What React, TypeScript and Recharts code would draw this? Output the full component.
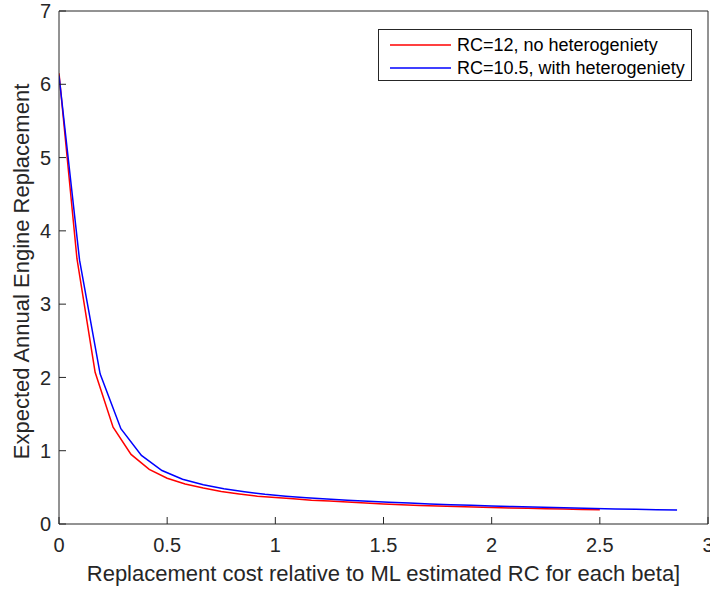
import { Legend, Line, LineChart, XAxis, YAxis } from "recharts"

// RC = 12, no heterogeneity (red)
const noHetX = [
  0, 0.083, 0.167, 0.25, 0.333, 0.417, 0.5, 0.583, 0.667, 0.75, 0.833, 0.917, 1, 1.083, 1.167, 1.25,
  1.333, 1.417, 1.5, 1.583, 1.667, 1.75, 1.833, 1.917, 2, 2.083, 2.167, 2.25, 2.333, 2.417, 2.5,
]
const noHetY = [
  6.15, 3.62, 2.07, 1.32, 0.95, 0.745, 0.625, 0.545, 0.49, 0.445, 0.41, 0.38, 0.36, 0.345, 0.325, 0.315,
  0.3, 0.285, 0.272, 0.263, 0.254, 0.246, 0.239, 0.232, 0.226, 0.22, 0.214, 0.209, 0.204, 0.199, 0.195,
]

// RC = 10.5, with heterogeneity (blue)
const hetX = [
  0, 0.095, 0.19, 0.286, 0.381, 0.476, 0.571, 0.667, 0.762, 0.857, 0.952, 1.048, 1.143, 1.238, 1.333, 1.429,
  1.524, 1.619, 1.714, 1.81, 1.905, 2, 2.095, 2.19, 2.286, 2.381, 2.476, 2.571, 2.667, 2.762, 2.857,
]
const hetY = [
  6.12, 3.6, 2.05, 1.3, 0.935, 0.73, 0.61, 0.535, 0.48, 0.44, 0.405, 0.38, 0.358, 0.34, 0.325, 0.31,
  0.297, 0.285, 0.274, 0.264, 0.255, 0.246, 0.238, 0.231, 0.224, 0.218, 0.212, 0.206, 0.201, 0.196, 0.191,
]

const xTicks = [0, 0.5, 1, 1.5, 2, 2.5, 3]
const yTicks = [0, 1, 2, 3, 4, 5, 6, 7]
const seriesNames = ["RC=12, no heterogeniety", "RC=10.5, with heterogeniety"]
const seriesColors = ["#ff0000", "#0000ff"]
const xTitle = "Replacement cost relative to ML estimated RC for each beta]"
const yTitle = "Expected Annual Engine Replacement"

const noHet = noHetX.map((x, i) => ({ x, y: noHetY[i] }))
const het = hetX.map((x, i) => ({ x, y: hetY[i] }))

const FONT = '"Liberation Sans", Arial, Helvetica, sans-serif'
const INK = "#262626"

// matlab-style legend box, kept in series order (recharts sorts by name otherwise)
function LegendBox() {
  return (
    <div
      style={{
        position: "relative",
        width: 314,
        height: 52,
        boxSizing: "border-box",
        border: `1px solid ${INK}`,
        background: "#fff",
        fontFamily: FONT,
        fontSize: 18,
        color: "#000",
      }}
    >
      {seriesNames.map((name, i) => (
        <div
          key={name}
          style={{
            position: "absolute",
            left: 11,
            top: 4 + i * 22.5,
            height: 22,
            display: "flex",
            alignItems: "center",
            whiteSpace: "nowrap",
          }}
        >
          <svg width={61} height={4} style={{ display: "block" }}>
            <line x1={0} x2={61} y1={2} y2={2} stroke={seriesColors[i]} strokeWidth={1.5} />
          </svg>
          <span style={{ marginLeft: 6, lineHeight: "22px" }}>{name}</span>
        </div>
      ))}
    </div>
  )
}

function YTitle({ viewBox }: any) {
  const cx = viewBox.x + 29
  const cy = viewBox.y + viewBox.height / 2 + 4
  return (
    <text
      x={cx}
      y={cy}
      transform={`rotate(-90 ${cx} ${cy})`}
      textAnchor="middle"
      fill={INK}
      fontSize={22}
      fontFamily={FONT}
    >
      {yTitle}
    </text>
  )
}

export default function App() {
  const tickStyle = { fill: INK, fontSize: 20, fontFamily: FONT }
  return (
    <div style={{ position: "absolute", left: 0, top: 0, background: "#fff" }}>
      <LineChart width={710} height={589} margin={{ top: 10, right: 1, bottom: 0, left: 0 }}>
        <XAxis
          type="number"
          dataKey="x"
          domain={[0, 3]}
          ticks={xTicks}
          interval={0}
          allowDataOverflow
          height={65}
          tickSize={-7}
          tickMargin={21}
          stroke={INK}
          tick={tickStyle}
          label={{ value: xTitle, position: "insideBottom", offset: 8, fill: INK, fontSize: 22, fontFamily: FONT }}
        />
        <XAxis
          xAxisId="top"
          orientation="top"
          type="number"
          dataKey="x"
          domain={[0, 3]}
          ticks={xTicks}
          interval={0}
          allowDataOverflow
          height={1}
          tickSize={-7}
          tick={false}
          stroke={INK}
        />
        <YAxis
          type="number"
          domain={[0, 7]}
          ticks={yTicks}
          interval={0}
          allowDataOverflow
          width={59}
          tickSize={-7}
          tickMargin={15}
          stroke={INK}
          tick={tickStyle}
          label={{ content: YTitle }}
        />
        <YAxis
          yAxisId="right"
          orientation="right"
          type="number"
          domain={[0, 7]}
          ticks={yTicks}
          interval={0}
          allowDataOverflow
          width={1}
          tickSize={-7}
          tick={false}
          stroke={INK}
        />
        <Legend
          layout="vertical"
          align="center"
          verticalAlign="middle"
          content={LegendBox}
          wrapperStyle={{ top: 29, left: 378, width: 314, height: 52 }}
        />
        <Line
          data={noHet}
          dataKey="y"
          name={seriesNames[0]}
          type="linear"
          stroke={seriesColors[0]}
          strokeWidth={1.5}
          dot={false}
          isAnimationActive={false}
        />
        <Line
          data={het}
          dataKey="y"
          name={seriesNames[1]}
          type="linear"
          stroke={seriesColors[1]}
          strokeWidth={1.5}
          dot={false}
          isAnimationActive={false}
        />
      </LineChart>
    </div>
  )
}
